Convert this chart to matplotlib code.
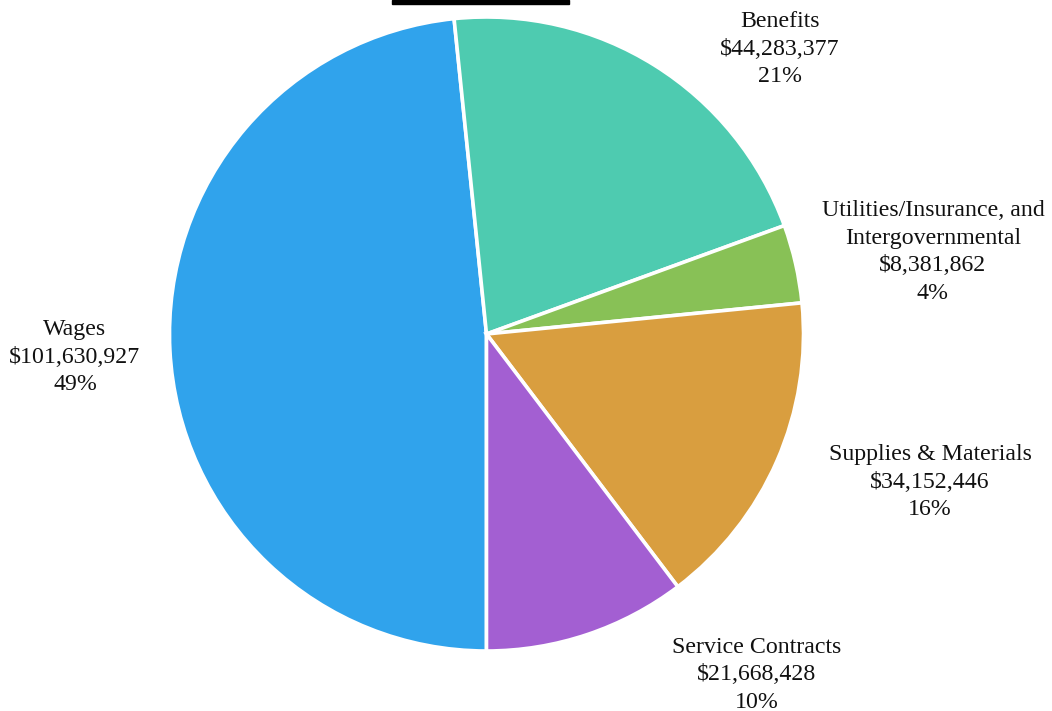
import matplotlib
matplotlib.use("Agg")
import matplotlib.pyplot as plt
from matplotlib.patches import Rectangle

categories = ["Wages", "Benefits", "Utilities/Insurance, and\nIntergovernmental",
              "Supplies & Materials", "Service Contracts"]
amounts = [101630927, 44283377, 8381862, 34152446, 21668428]
percents = ["49%", "21%", "4%", "16%", "10%"]
colors = ["#30a3ec", "#4ecbb0", "#88c156", "#d99e3f", "#a35fd2"]

# label anchors (pixels from top-left) for each slice's text block
label_px = [(75, 357), (780, 49), (933, 252), (930, 482), (757, 675)]

W, H = 1052, 711
CX, CY, R = 486.5, 334, 317          # pie centre / radius in pixels

plt.rcParams["font.family"] = ["Liberation Serif", "DejaVu Serif"]

fig = plt.figure(figsize=(W / 100, H / 100), dpi=100)
ax = fig.add_axes([0, 0, 1, 1])
ax.pie(amounts, colors=colors, startangle=-90, counterclock=False, radius=1,
       wedgeprops=dict(edgecolor="white", linewidth=2.6))
ax.set_xlim(-CX / R, (W - CX) / R)
ax.set_ylim(-(H - CY) / R, CY / R)
ax.set_aspect("auto")
ax.axis("off")

for name, val, pct, (px, py) in zip(categories, amounts, percents, label_px):
    ax.text((px - CX) / R, (CY - py) / R, f"{name}\n${val:,}\n{pct}",
            ha="center", va="center", multialignment="center",
            fontsize=17.2, linespacing=1.4, color="#111111")

# black rule clipped at the top edge
fig.patches.append(Rectangle((392 / W, 1 - 4 / H), 177 / W, 4 / H,
                             transform=fig.transFigure, color="black"))

fig.savefig("out.png", dpi=100)
